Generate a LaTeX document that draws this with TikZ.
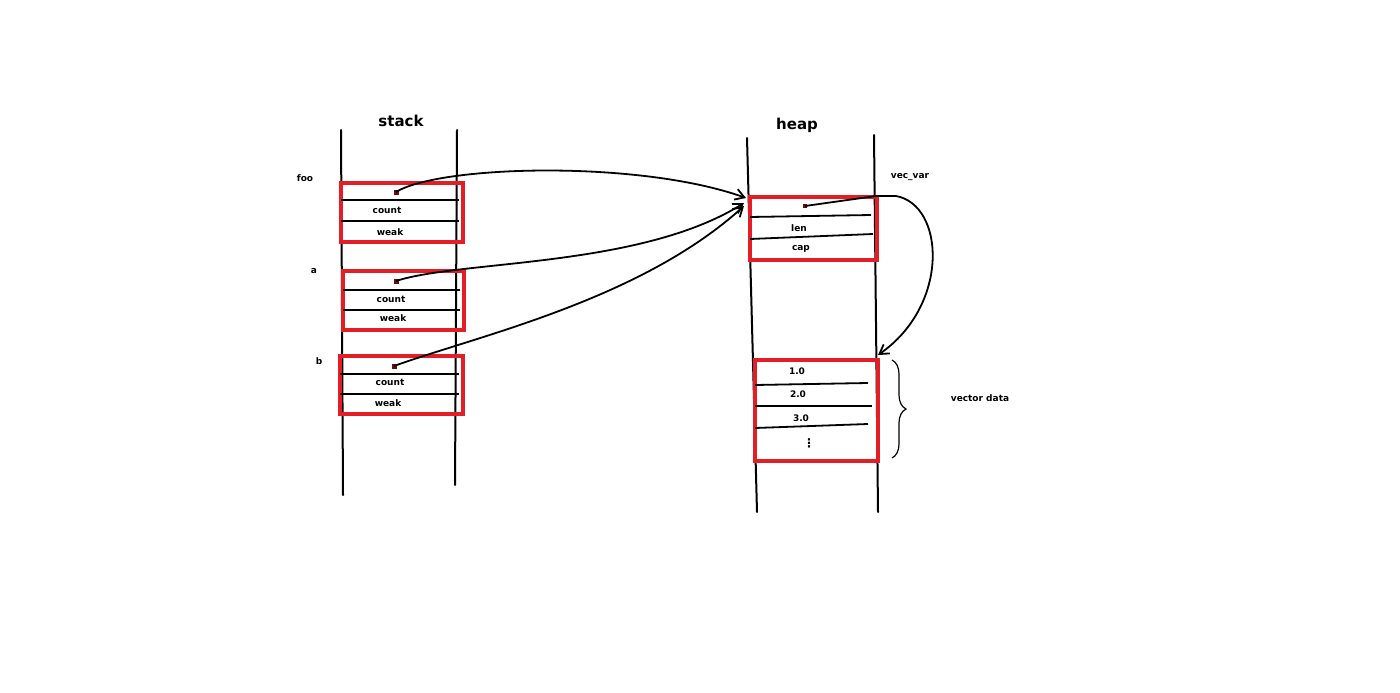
\documentclass[tikz,border=0pt]{standalone}
\usepackage{fontspec}
\setmainfont{DejaVu Sans}
\usetikzlibrary{arrows.meta,decorations.pathreplacing}
\definecolor{paintred}{RGB}{228,30,38}
\definecolor{dotred}{RGB}{110,10,10}
\tikzset{
  wall/.style={line width=2pt,black,line cap=round},
  sep/.style={line width=1.8pt,black},
  redbox/.style={draw=paintred,line width=3.5pt,inner sep=0pt,anchor=north west},
  lbl/.style={font=\bfseries\fontsize{9}{10}\selectfont,inner sep=0pt},
  title/.style={font=\bfseries\fontsize{15}{17}\selectfont,inner sep=0pt},
  ptr/.style={fill=dotred,minimum size=5pt,inner sep=0pt},
  link/.style={line width=1.8pt,black,-{Straight Barb[length=9pt,width=11pt,line width=1.8pt]}},
}
\begin{document}
\begin{tikzpicture}[x=1pt,y=-1pt]
\useasboundingbox (0,0) rectangle (1400,693);
% stack walls
\coordinate (sl1) at (341,130); \coordinate (sl2) at (343,495);
\coordinate (sr1) at (457,130); \coordinate (sr2) at (455,485);
\draw[wall] (sl1) -- (sl2);
\draw[wall] (sr1) -- (sr2);
% heap walls
\coordinate (hl1) at (747,138); \coordinate (hl2) at (757,512);
\coordinate (hr1) at (874,135); \coordinate (hr2) at (878,512);
\draw[wall] (hl1) -- (hl2);
\draw[wall] (hr1) -- (hr2);
% titles
\node[title] (tstack) at (401,121) {stack};
\node[title] (theap) at (797,125) {heap};
% foo
\node[redbox,minimum width=122pt,minimum height=59pt] (foo) at (339,181) {};
\draw[sep] (341,200) -- (459,200);
\draw[sep] (341,221) -- (459,221);
\node[ptr] (pfoo) at (396,192) {};
\node[lbl] (cfoo) at (387,210) {count};
\node[lbl] (wfoo) at (390,232) {weak};
\node[lbl] (nfoo) at (305,178) {foo};
% a
\node[redbox,minimum width=121pt,minimum height=59pt] (abox) at (341,269) {};
\draw[sep] (343,290) -- (460,290);
\draw[sep] (343,310) -- (460,310);
\node[ptr] (pa) at (396,281) {};
\node[lbl] (ca) at (391,299) {count};
\node[lbl] (wa) at (393,318) {weak};
\node[lbl] (na) at (314,271) {a};
% b
\node[redbox,minimum width=123pt,minimum height=58pt] (bbox) at (338,354) {};
\draw[sep] (340,374) -- (459,374);
\draw[sep] (340,394) -- (459,394);
\node[ptr] (pb) at (394,366) {};
\node[lbl] (cb) at (390,382) {count};
\node[lbl] (wb) at (388,403) {weak};
\node[lbl] (nb) at (319,361) {b};
% vec_var
\node[redbox,minimum width=127pt,minimum height=63pt] (vec) at (748,195) {};
\draw[sep] (750,217) -- (871,215);
\draw[sep] (750,239) -- (873,234);
\node[ptr,minimum size=4pt] (pvec) at (805,206) {};
\node[lbl] (tlen) at (799,228) {len};
\node[lbl] (tcap) at (801,249) {cap};
\node[lbl] (nvec) at (910,177) {vec\_var};
% vector data
\node[redbox,minimum width=123pt,minimum height=101pt] (data) at (753,358) {};
\draw[sep] (755,385) -- (868,383);
\draw[sep] (755,406) -- (872,406);
\draw[sep] (755,428) -- (868,424);
\node[lbl] (d1) at (797,371) {1.0};
\node[lbl] (d2) at (798,394) {2.0};
\node[lbl] (d3) at (801,418) {3.0};
\node[lbl,font=\bfseries\fontsize{12}{13}\selectfont] (d4) at (809,443) {⋮};
\node[lbl] (ndata) at (980,398) {vector data};
% brace
\coordinate (br1) at (892,360); \coordinate (br2) at (892,458);
\draw[line width=1.2pt,decorate,decoration={brace,amplitude=14pt}] (br1) -- (br2);
% pointers
\coordinate (hin) at (746,198);
\coordinate (hin2) at (744,203);
\coordinate (hin3) at (744,206);
\draw[link] (pfoo.center) .. controls (440,165) and (640,160) .. (hin);
\draw[link] (pa.center) .. controls (460,260) and (640,268) .. (hin2);
\draw[link] (pb.center) .. controls (480,335) and (640,300) .. (hin3);
\coordinate (vout) at (876,196);
\coordinate (vturn) at (896,196);
\coordinate (din) at (878,355);
\draw[link] (pvec.center) -- (vout) -- (vturn) .. controls (945,205) and (950,305) .. (din);
\end{tikzpicture}
\end{document}
